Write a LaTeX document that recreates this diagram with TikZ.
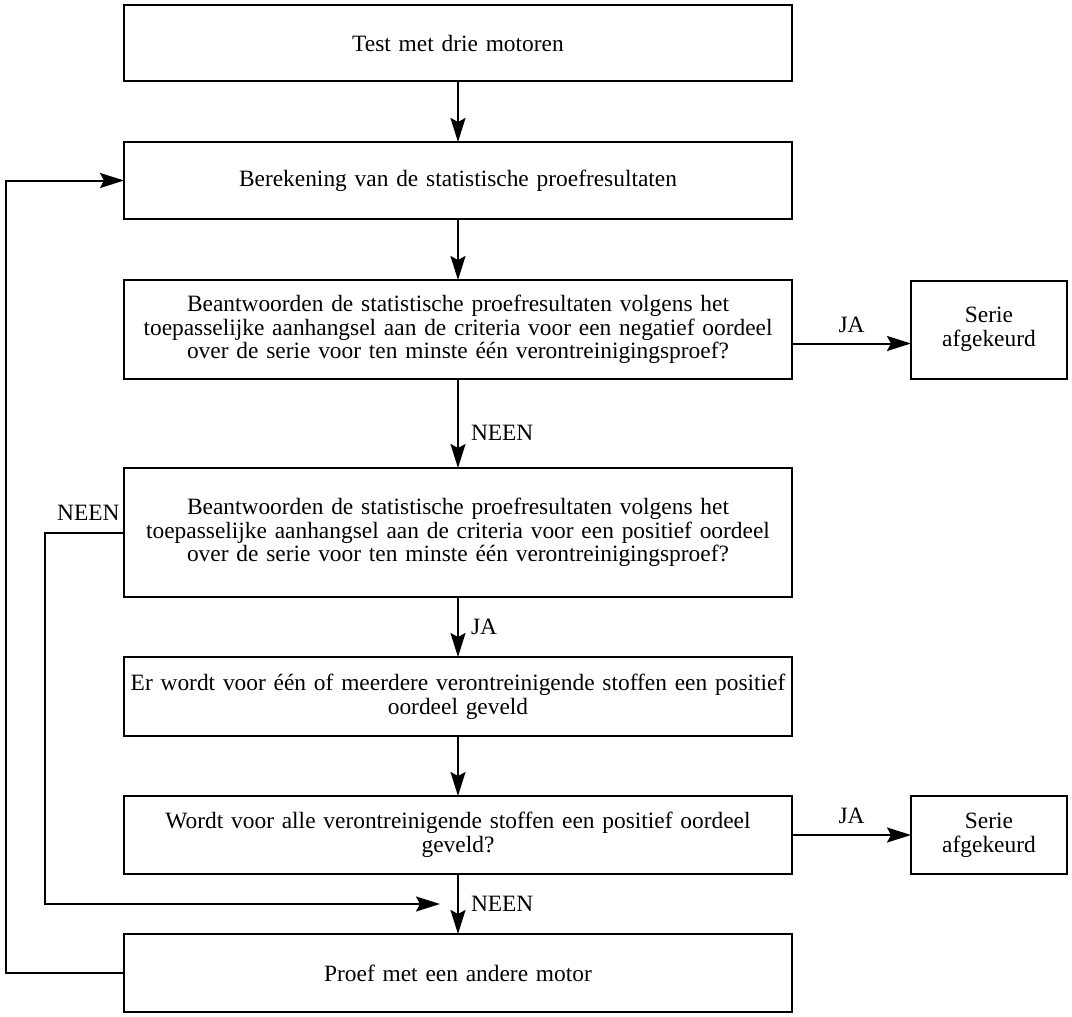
\documentclass[tikz,border=0pt]{standalone}
\usepackage{fontspec}
\setmainfont{Liberation Serif}
\usetikzlibrary{arrows.meta, positioning, calc}

\begin{document}
\begin{tikzpicture}[
    box/.style={rectangle, draw=black, line width=1pt, outer sep=0pt,
                text width=332pt, inner xsep=1pt, inner ysep=0pt, align=center,
                font=\fontsize{11.7}{11.8}\selectfont},
    result/.style={box, text width=76pt},
    lbl/.style={font=\fontsize{11.7}{11.8}\selectfont, inner sep=2pt},
    arrow/.style={-{Stealth[length=12pt, width=7.5pt, inset=2pt]}, line width=1pt}
]
    \useasboundingbox (0,0) rectangle (536pt,-508.5pt);

    \node[box, minimum height=38pt, anchor=north west] (test) at (62pt,-2.5pt)
        {Test met drie motoren};
    \node[box, minimum height=38.5pt] (calc) [below=30.5pt of test]
        {Berekening van de statistische proefresultaten};
    \node[box, minimum height=49.5pt] (neg) [below=30.5pt of calc]
        {Beantwoorden de statistische proefresultaten volgens het\\
         toepasselijke aanhangsel aan de criteria voor een negatief oordeel\\
         over de serie voor ten minste één verontreinigingsproef?};
    \node[box, minimum height=64.5pt] (pos) [below=44.5pt of neg]
        {Beantwoorden de statistische proefresultaten volgens het\\
         toepasselijke aanhangsel aan de criteria voor een positief oordeel\\
         over de serie voor ten minste één verontreinigingsproef?};
    \node[box, minimum height=39.5pt] (oordeel) [below=30pt of pos]
        {Er wordt voor één of meerdere verontreinigende stoffen een positief\\
         oordeel geveld};
    \node[box, minimum height=39pt] (alle) [below=30pt of oordeel]
        {Wordt voor alle verontreinigende stoffen een positief oordeel\\
         geveld?};
    \node[box, minimum height=39pt] (ander) [below=30pt of alle]
        {Proef met een andere motor};

    \node[result, minimum height=49pt] (afg1) [right=59.5pt of neg] {Serie\\afgekeurd};
    \node[result, minimum height=39pt] (afg2) [right=59.5pt of alle] {Serie\\afgekeurd};

    \coordinate (merge) at ([xshift=-9pt]$(alle.south)!0.5!(ander.north)$);

    \draw[arrow] (test) -- (calc);
    \draw[arrow] (calc) -- (neg);
    \draw[arrow] (neg) -- node[lbl, right=4pt, pos=0.6] (neen1) {NEEN} (pos);
    \draw[arrow] (pos) -- node[lbl, right=4pt] (ja2) {JA} (oordeel);
    \draw[arrow] (oordeel) -- (alle);
    \draw[arrow] (alle) -- node[lbl, right=4pt, pos=0.5] (neen3) {NEEN} (ander);

    \draw[arrow] ([yshift=-7pt]neg.east) -- node[lbl, above=3pt] (ja1) {JA}
        ([yshift=-7pt]neg.east -| afg1.west);
    \draw[arrow] (alle) -- node[lbl, above=3pt] (ja3) {JA} (afg2);

    \draw[arrow] (pos.west) -- ++(-39.5pt,0) |- (merge);
    \node[lbl, above left=4pt and 0pt of pos.west] (neen2) {NEEN};

    \draw[arrow] (ander.west) -- ++(-59pt,0) |- (calc.west);
\end{tikzpicture}
\end{document}
